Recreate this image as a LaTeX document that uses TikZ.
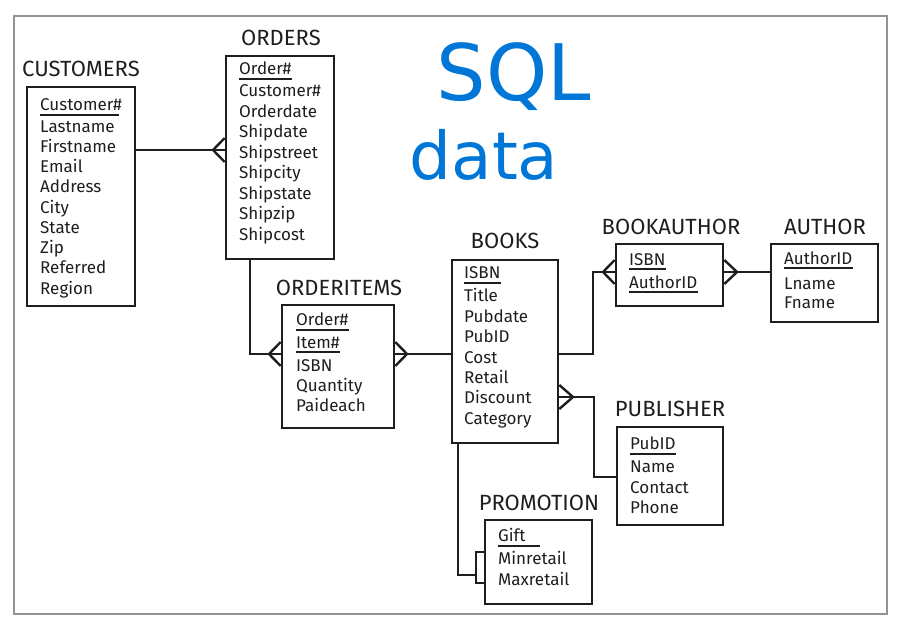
\documentclass[tikz,border=0pt]{standalone}
\usepackage{fontspec}
\setmainfont{Fira Sans}
\newfontfamily\inkfont{DejaVu Sans}
\usetikzlibrary{calc}
\definecolor{ink}{RGB}{0,118,214}
\definecolor{dk}{RGB}{30,30,30}
\begin{document}
\begin{tikzpicture}[x=1pt,y=-1pt,
  ebox/.style={draw=dk, line width=2.6pt, rectangle, inner sep=0pt},
  fld/.style={anchor=west, inner sep=0pt, yshift=-3pt, text height=10pt, text depth=3pt, text=dk, font=\fontsize{17}{20}\selectfont},
  ttl/.style={inner sep=0pt, text=dk, font=\fontsize{22}{26}\selectfont},
  ul/.style={draw=dk, line width=2.4pt},
  conn/.style={draw=dk, line width=2.4pt},
  frame/.style={draw=gray!85, line width=1.6pt}]
\useasboundingbox (0,0) rectangle (902,624);
\draw[frame] (14,16) rectangle (887,614);

% SQL data handwriting
\node[text=ink, inner sep=0pt, font=\inkfont\fontsize{78}{80}\selectfont] (sql) at (514,77) {SQL};
\node[text=ink, inner sep=0pt, font=\inkfont\fontsize{66}{70}\selectfont] (data) at (484,155) {data};

% CUSTOMERS
\node[ebox, minimum width=108pt, minimum height=219pt] (cust) at (81,196.5) {};
\node[ttl] (custt) at (81,69) {CUSTOMERS};
\node[fld] (c1) at (40,104) {Customer\#};
\node[fld] (c2) at (40,126) {Lastname};
\node[fld] (c3) at (40,146) {Firstname};
\node[fld] (c4) at (40,166) {Email};
\node[fld] (c5) at (40,186) {Address};
\node[fld] (c6) at (40,207) {City};
\node[fld] (c7) at (40,227) {State};
\node[fld] (c8) at (40,247) {Zip};
\node[fld] (c9) at (40,267) {Referred};
\node[fld] (c10) at (40,288) {Region};
\draw[ul] (c1.west |- 0,115) -- ([xshift=-3pt]c1.east |- 0,115);

% ORDERS
\node[ebox, minimum width=108pt, minimum height=203pt] (ord) at (280,157.5) {};
\node[ttl] (ordt) at (281,38) {ORDERS};
\node[fld] (o1) at (239,68) {Order\#};
\node[fld] (o2) at (239,90) {Customer\#};
\node[fld] (o3) at (239,111) {Orderdate};
\node[fld] (o4) at (239,131) {Shipdate};
\node[fld] (o5) at (239,152) {Shipstreet};
\node[fld] (o6) at (239,172) {Shipcity};
\node[fld] (o7) at (239,193) {Shipstate};
\node[fld] (o8) at (239,213) {Shipzip};
\node[fld] (o9) at (239,234) {Shipcost};
\draw[ul] (o1.west |- 0,79) -- (o1.east |- 0,79);

% ORDERITEMS
\node[ebox, minimum width=112pt, minimum height=123pt] (oi) at (338,366.5) {};
\node[ttl] (oit) at (339,288) {ORDERITEMS};
\node[fld] (i1) at (296,319) {Order\#};
\node[fld] (i2) at (296,342) {Item\#};
\node[fld] (i3) at (296,365) {ISBN};
\node[fld] (i4) at (296,385) {Quantity};
\node[fld] (i5) at (296,405) {Paideach};
\draw[ul] (i1.west |- 0,330) -- (i1.east |- 0,330);
\draw[ul] (i2.west |- 0,352) -- (i2.east |- 0,352);

% BOOKS
\node[ebox, minimum width=106pt, minimum height=183pt] (books) at (505,351.5) {};
\node[ttl] (bookst) at (505,241) {BOOKS};
\node[fld] (b1) at (464,272) {ISBN};
\node[fld] (b2) at (464,295) {Title};
\node[fld] (b3) at (464,316) {Pubdate};
\node[fld] (b4) at (464,336) {PubID};
\node[fld] (b5) at (464,357) {Cost};
\node[fld] (b6) at (464,377) {Retail};
\node[fld] (b7) at (464,397) {Discount};
\node[fld] (b8) at (464,418) {Category};
\draw[ul] (b1.west |- 0,283) -- (b1.east |- 0,283);

% BOOKAUTHOR
\node[ebox, minimum width=107pt, minimum height=62pt] (ba) at (669.5,275) {};
\node[ttl] (bat) at (671,227) {BOOKAUTHOR};
\node[fld] (ba1) at (629,259) {ISBN};
\node[fld] (ba2) at (629,282) {AuthorID};
\draw[ul] (ba1.west |- 0,269) -- (ba1.east |- 0,269);
\draw[ul] (ba2.west |- 0,292) -- (ba2.east |- 0,292);

% AUTHOR
\node[ebox, minimum width=107pt, minimum height=78pt] (auth) at (824.5,283) {};
\node[ttl] (autht) at (825,227) {AUTHOR};
\node[fld] (a1) at (784,258) {AuthorID};
\node[fld] (a2) at (784,283) {Lname};
\node[fld] (a3) at (784,302) {Fname};
\draw[ul] (a1.west |- 0,268) -- (a1.east |- 0,268);

% PUBLISHER
\node[ebox, minimum width=106pt, minimum height=98pt] (pub) at (670,476) {};
\node[ttl] (pubt) at (670,409) {PUBLISHER};
\node[fld] (p1) at (630,443) {PubID};
\node[fld] (p2) at (630,466) {Name};
\node[fld] (p3) at (630,487) {Contact};
\node[fld] (p4) at (630,507) {Phone};
\draw[ul] (p1.west |- 0,454) -- (p1.east |- 0,454);

% PROMOTION
\node[ebox, minimum width=107pt, minimum height=84pt] (promo) at (538.5,562) {};
\node[ttl] (promot) at (539,503) {PROMOTION};
\node[fld] (m1) at (498,535) {Gift};
\node[fld] (m2) at (498,558) {Minretail};
\node[fld] (m3) at (498,579) {Maxretail};
\draw[ul] (m1.west |- 0,546) -- (540,546);

% connectors
% CUSTOMERS - ORDERS
\draw[conn] (cust.east |- 0,150) -- (ord.west |- 0,150);
\draw[conn] (ord.west |- 0,138) -- (213,150) -- (ord.west |- 0,162);
% ORDERS - ORDERITEMS
\draw[conn] (ord.south -| 250,0) -- (250,354) -- (oi.west |- 0,354);
\draw[conn] (oi.west |- 0,342) -- (269,354) -- (oi.west |- 0,366);
% ORDERITEMS - BOOKS
\draw[conn] (oi.east |- 0,354) -- (books.west |- 0,354);
\draw[conn] (oi.east |- 0,342) -- (407,354) -- (oi.east |- 0,366);
% BOOKS - BOOKAUTHOR
\draw[conn] (books.east |- 0,354) -- (593,354) -- (593,272) -- (ba.west |- 0,272);
\draw[conn] (ba.west |- 0,260) -- (603,272) -- (ba.west |- 0,284);
% BOOKAUTHOR - AUTHOR
\draw[conn] (ba.east |- 0,272) -- (auth.west |- 0,272);
\draw[conn] (ba.east |- 0,260) -- (737,272) -- (ba.east |- 0,284);
% BOOKS - PUBLISHER
\draw[conn] (books.east |- 0,397) -- (594,397) -- (594,477) -- (pub.west |- 0,477);
\draw[conn] (books.east |- 0,385) -- (573,397) -- (books.east |- 0,409);
% BOOKS - PROMOTION
\coordinate (pj) at ([xshift=-8pt]promo.west |- 0,575);
\draw[conn] (books.south -| 458,0) -- (458,575) -- (pj);
\draw[conn] (promo.west |- 0,552) -- ([xshift=-8pt]promo.west |- 0,552) -- ([xshift=-8pt]promo.west |- 0,583) -- (promo.west |- 0,583);
\end{tikzpicture}
\end{document}
